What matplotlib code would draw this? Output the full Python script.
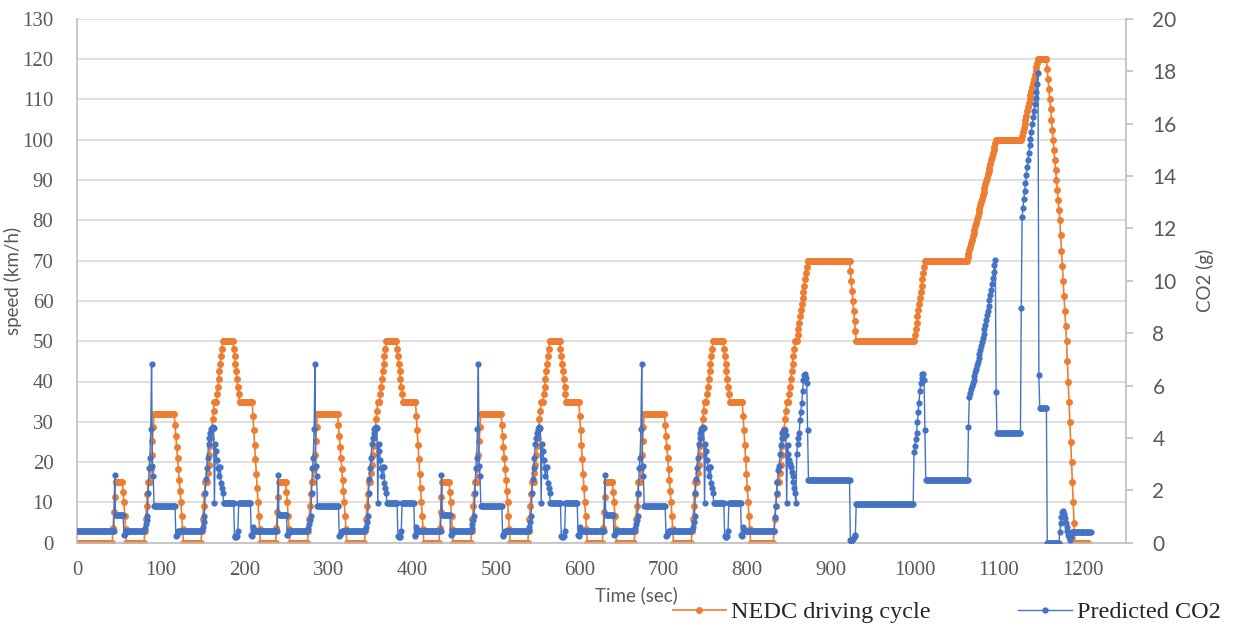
import numpy as np
import matplotlib
matplotlib.use('Agg')
import matplotlib.pyplot as plt
from matplotlib.lines import Line2D

# ---- data (one sample per second) ----
# NEDC speed, km/h : leading idle, 4 x ECE-15 urban cycle, then EUDC
lead_speed = [0]*31
ece_speed = ([0]*12 + [3.75, 7.5, 11.25, 15] + [15]*8 + [12.5, 10, 6.67, 3.33, 0] + [0]*21
             + [3, 6, 9, 12, 15, 15, 15, 18.4, 21.8, 25.2, 28.6, 32] + [32]*24
             + [29.25, 26.5, 23.75, 21, 18.25, 15.5, 12.75, 10, 6.67, 3.33, 0] + [0]*21
             + [3, 6, 9, 12, 15, 15, 15, 17.2, 19.4, 21.7, 23.9, 26.1, 28.3, 30.6, 32.8, 35, 35, 35,
                36.9, 38.75, 40.6, 42.5, 44.4, 46.25, 48.1, 50] + [50]*12
             + [48.1, 46.25, 44.4, 42.5, 40.6, 38.75, 36.9, 35] + [35]*13
             + [35, 35, 31.4, 27.9, 24.3, 20.7, 17.1, 13.6, 10, 6.67, 3.33, 0] + [0]*6)
eudc_speed = ([0]*21
              + [3, 6, 9, 12, 15, 15, 15, 17.2, 19.4, 21.7, 23.9, 26.1, 28.3, 30.6, 32.8, 35, 35, 35,
                 36.9, 38.75, 40.6, 42.5, 44.4, 46.25, 48.1, 50, 50, 50,
                 51.5, 53.1, 54.6, 56.2, 57.7, 59.2, 60.8, 62.3, 63.8, 65.4, 66.9, 68.5, 70] + [70]*50
              + [67.5, 65, 62.5, 60, 57.5, 55, 52.5, 50] + [50]*69
              + [51.5, 53.1, 54.6, 56.2, 57.7, 59.2, 60.8, 62.3, 63.8, 65.4, 66.9, 68.5, 70] + [70]*50
              + [70.9, 71.7, 72.6, 73.4, 74.3, 75.1, 76.0, 76.9, 77.7, 78.6, 79.4, 80.3, 81.1, 82.0,
                 82.9, 83.7, 84.6, 85.4, 86.3, 87.1, 88.0, 88.9, 89.7, 90.6, 91.4, 92.3, 93.1, 94.0,
                 94.9, 95.7, 96.6, 97.4, 98.3, 99.1, 100] + [100]*30
              + [101, 102, 103, 104, 105, 106, 107, 108, 109, 110,
                 111, 112, 113, 114, 115, 116, 117, 118, 119, 120] + [120]*10
              + [117.5, 115, 112.5, 110, 107.5, 105, 102.5, 100, 97.5, 95, 92.5, 90, 87.5, 85, 82.5, 80]
              + [76.25, 72.5, 68.75, 65, 61.25, 57.5, 53.75, 50]
              + [45, 40, 35, 30, 25, 20, 15, 10, 5, 0] + [0]*16)

# predicted CO2, g
lead_co2 = [0.44]*31
ece_co2 = ([0.44]*14 + [2.6] + [1.05]*10 + [0.3, 0.35] + [0.44]*22
           + [0.44, 0.55, 0.7, 0.85, 1.03, 1.91, 2.86, 3.25, 4.33, 6.81, 2.92, 2.54] + [1.4]*26
           + [0.25, 0.28, 0.38] + [0.44]*27
           + [0.44, 0.5, 0.6, 0.8, 1.03, 1.91, 2.42, 2.86, 3.25, 3.75, 4.0, 4.2, 4.33, 4.38, 4.4,
              4.38, 1.5, 3.75, 3.5, 3.15, 2.86, 2.54, 2.9, 2.9, 2.29, 2.1, 1.9] + [1.5]*13
           + [0.25, 0.22, 0.22, 0.25, 0.44] + [1.5]*15
           + [0.3, 0.25, 0.6] + [0.44]*15)
eudc_co2 = ([0.44]*22
            + [0.99, 1.4, 1.89, 2.3, 2.77, 2.94, 3.4, 3.73, 4.0, 4.18, 4.25, 4.3, 4.3, 4.1, 1.5,
               3.73, 3.4, 3.15, 3.0, 2.9, 2.7, 2.55, 2.3, 2.1, 1.9, 1.5, 3.4, 3.75, 4.0, 4.2,
               4.7, 5.0, 5.35, 5.78, 6.2, 6.4, 6.45, 6.3, 6.1, 4.3] + [2.39]*50
            + [0.1, 0.05, 0.1, 0.15, 0.2, 0.25, 0.3] + [1.48]*69
            + [3.47, 3.7, 3.95, 4.2, 4.6, 5.0, 5.35, 5.8, 6.1, 6.3, 6.45, 6.45, 6.2, 4.3] + [2.39]*51
            + [4.43, 5.55, 5.72, 5.85, 5.98, 6.1, 6.23, 6.36, 6.5, 6.63, 6.77, 6.91, 7.05, 7.2, 7.35,
               7.5, 7.66, 7.82, 7.98, 8.15, 8.32, 8.5, 8.68, 8.86, 9.05, 9.25, 9.45, 9.65, 9.88,
               10.1, 10.35, 10.6, 10.78, 5.76] + [4.2]*29
            + [8.97, 12.44, 12.79, 13.11, 13.42, 13.74, 14.03, 14.33, 14.61, 14.89, 15.17, 15.42,
               15.69, 15.97, 16.24, 16.49, 16.74, 16.96, 17.19, 17.53, 17.92, 6.4] + [5.15]*9
            + [0.0]*15
            + [0.42, 0.75, 1.0, 1.18, 1.22, 1.1, 0.95, 0.75, 0.6, 0.45, 0.3, 0.2, 0.1, 0.2] + [0.42]*24)

speed = lead_speed + ece_speed*4 + eudc_speed
co2 = lead_co2 + ece_co2*4 + eudc_co2
t_speed = np.arange(len(speed))
t_co2 = np.arange(len(co2))

orange = '#ED7D31'
blue = '#4472C4'
grey = '#595959'
serif = 'Liberation Serif'
sans = 'Lato'

fig = plt.figure(figsize=(12.35, 6.28), dpi=100)
ax = fig.add_axes([77/1235, 85.3/628, 1049/1235, 523.9/628])
ax.plot(t_speed, speed, color=orange, lw=1.2, marker='o', ms=5.0, mew=0)
ax.set_xlim(0, 1252)
ax.set_ylim(0, 130)
ax.set_xticks(np.arange(0, 1201, 100))
ax.set_yticks(np.arange(0, 131, 10))
ax.grid(axis='y', color='#D9D9D9', lw=1.2)
ax.set_axisbelow(True)
for s in ['top', 'right']:
    ax.spines[s].set_visible(False)
for s in ['left', 'bottom']:
    ax.spines[s].set_color('#BFBFBF')
    ax.spines[s].set_linewidth(1.2)
ax.tick_params(axis='both', length=0, labelsize=15, labelcolor=grey)
ax.tick_params(axis='y', pad=17)
ax.tick_params(axis='x', pad=13)
for lab in ax.get_xticklabels() + ax.get_yticklabels():
    lab.set_fontfamily(serif)
ax.set_ylabel('speed (km/h)', fontsize=13.5, color=grey, family=sans)
ax.yaxis.set_label_coords(-55/1049, 0.5)

ax2 = ax.twinx()
ax2.plot(t_co2, co2, color=blue, lw=1.0, marker='o', ms=4.5, mew=0)
ax2.set_ylim(0, 20)
ax2.set_yticks(np.arange(0, 21, 2))
for s in ['top', 'left', 'bottom']:
    ax2.spines[s].set_visible(False)
ax2.spines['right'].set_color('#BFBFBF')
ax2.spines['right'].set_linewidth(1.2)
ax2.tick_params(axis='y', length=5, width=1.2, color='#BFBFBF', labelsize=15, labelcolor=grey, pad=14)
for lab in ax2.get_yticklabels():
    lab.set_fontfamily(sans)
ax2.set_ylabel('CO2 (g)', fontsize=13.5, color=grey, family=sans)
ax2.yaxis.set_label_coords(1 + 70/1049, 0.5)

fig.text(636/1235, 1 - 595/628, 'Time (sec)', fontsize=13.5, color=grey, family=sans,
         ha='center', va='center')

handles = [Line2D([], [], color=orange, lw=1.2, marker='o', ms=5.0, mew=0),
           Line2D([], [], color=blue, lw=1.0, marker='o', ms=4.5, mew=0)]
fig.legend(handles, ['NEDC driving cycle', 'Predicted CO2'], loc='center right',
           bbox_to_anchor=(1.0, 1 - 612/628), ncol=2, frameon=False,
           prop={'family': serif, 'size': 17.5}, labelcolor='#262626',
           handlelength=2.2, handletextpad=0.2, columnspacing=3.6, borderaxespad=0.2)

fig.savefig('out.png', dpi=100)
